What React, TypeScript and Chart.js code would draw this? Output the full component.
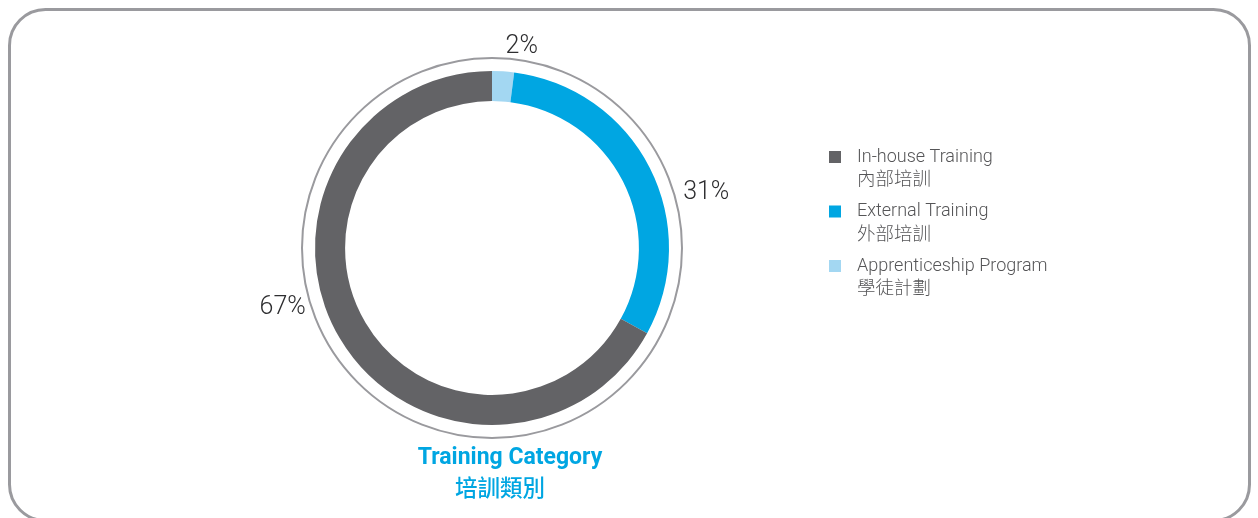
import React, { useEffect, useRef } from "react";
import { Chart, registerables } from "chart.js";

Chart.register(...registerables);

const categories = ["Apprenticeship Program", "External Training", "In-house Training"];
const categoriesZh = ["學徒計劃", "外部培訓", "內部培訓"];
const values = [2, 31, 67];
const valueLabels = ["2%", "31%", "67%"];
const colors = ["#a3d7f2", "#00a6e2", "#636366"];
const legendOrder = [2, 1, 0];
const titleEn = "Training Category";
const titleZh = "培訓類別";

const FONT = "Roboto, 'Liberation Sans', 'Noto Sans CJK TC', sans-serif";
const FONT_ZH = "'Noto Sans CJK TC', 'Noto Sans', sans-serif";

const decorPlugin = {
  id: "decor",
  beforeDraw(chart: any) {
    const ctx = chart.ctx;
    ctx.save();
    ctx.strokeStyle = "#9a9a9e";
    ctx.lineWidth = 3;
    ctx.beginPath();
    ctx.roundRect(9.5, 9.5, 1240, 511, 36);
    ctx.stroke();
    ctx.restore();
  },
  afterDraw(chart: any) {
    const ctx = chart.ctx;
    const arc = chart.getDatasetMeta(0).data[0];
    const cx = arc.x;
    const cy = arc.y;
    ctx.save();
    // outer thin ring
    ctx.strokeStyle = "#9a9a9e";
    ctx.lineWidth = 2;
    ctx.beginPath();
    ctx.arc(cx, cy, arc.outerRadius + 13, 0, Math.PI * 2);
    ctx.stroke();

    // value labels
    const polar = [
      [8.3, 206],
      [74.8, 222],
      [254.7, 217],
    ];
    ctx.fillStyle = "#2e2e30";
    ctx.font = `300 25px ${FONT}`;
    ctx.textAlign = "center";
    ctx.textBaseline = "middle";
    valueLabels.forEach((t, i) => {
      const a = (polar[i][0] * Math.PI) / 180;
      const r = polar[i][1];
      ctx.fillText(t, cx + r * Math.sin(a), cy - r * Math.cos(a) + 2.5);
    });

    // legend
    legendOrder.forEach((idx, k) => {
      const y0 = 157 + k * 54.5;
      ctx.fillStyle = colors[idx];
      ctx.fillRect(829, y0 - 6, 12, 12);
      ctx.textAlign = "left";
      ctx.textBaseline = "middle";
      ctx.fillStyle = "#555557";
      ctx.font = `300 18px ${FONT}`;
      ctx.fillText(categories[idx], 857, y0);
      ctx.font = `300 18.5px ${FONT_ZH}`;
      ctx.fillText(categoriesZh[idx], 857, y0 + 21);
    });

    // title
    ctx.textAlign = "center";
    ctx.fillStyle = "#00a6e2";
    ctx.font = `bold 23px ${FONT}`;
    ctx.fillText(titleEn, 510, 458);
    ctx.font = `500 22.5px ${FONT_ZH}`;
    ctx.fillText(titleZh, 500, 487);
    ctx.restore();
  },
};

export default function App() {
  const ref = useRef<HTMLCanvasElement>(null);
  useEffect(() => {
    document.body.style.margin = "0";
    const chart = new Chart(ref.current!, {
      type: "doughnut",
      data: {
        labels: categories,
        datasets: [
          {
            data: values,
            backgroundColor: colors,
            borderWidth: 0,
          },
        ],
      },
      options: {
        animation: false,
        responsive: false,
        cutout: "83%",
        layout: { padding: { left: 315, right: 589, top: 71, bottom: 93 } },
        plugins: {
          legend: { display: false },
          tooltip: { enabled: false },
        },
      },
      plugins: [decorPlugin],
    });
    return () => chart.destroy();
  }, []);
  return <canvas ref={ref} width={1258} height={518} style={{ display: "block" }} />;
}
